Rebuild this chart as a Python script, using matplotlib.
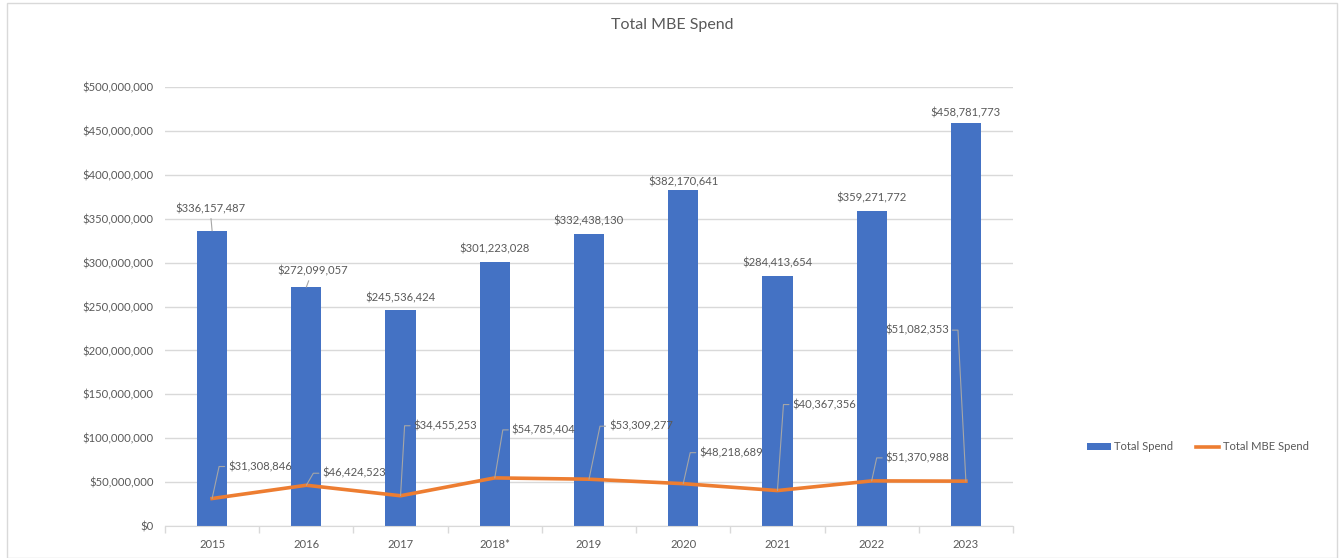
import math
import numpy as np
import matplotlib.pyplot as plt
from matplotlib.ticker import FuncFormatter, FixedLocator

plt.rcParams['font.family'] = ['Lato', 'DejaVu Sans']

years = ['2015', '2016', '2017', '2018*', '2019', '2020', '2021', '2022', '2023']
total_spend = [336157487, 272099057, 245536424, 301223028, 332438130,
               382170641, 284413654, 359271772, 458781773]
mbe_spend = [31308846, 46424523, 34455253, 54785404, 53309277,
             48218689, 40367356, 51370988, 51082353]

# label offsets in pixels (Excel placed these by hand)
mbe_off = [(16, 32), (16, 12), (13, 70), (17, 48), (20, 53),
           (16, 31), (15, 86), (14, 23), (-17, 151)]
bar_off = [(-2, 22), (6, 16), (0, 13), (0, 13), (0, 13),
           (0, 9), (0, 13), (0, 13), (0, 10)]

blue = '#4472C4'
orange = '#ED7D31'
txt = '#595959'
grid = '#D9D9D9'
fs = 8.1

fig = plt.figure(figsize=(13.4, 5.58), dpi=100)
ax = fig.add_axes([165/1340, 1-526/558, (1013-165)/1340, (526-87)/558])

x = np.arange(len(years))
bars = ax.bar(x, total_spend, width=0.32, color=blue, label='Total Spend', zorder=2)
line, = ax.plot(x, mbe_spend, color=orange, lw=2.6, label='Total MBE Spend', zorder=3,
                solid_joinstyle='round')

ax.set_xlim(-0.5, len(years) - 0.5)
ax.set_ylim(0, 500000000)
ax.set_yticks(np.arange(0, 500000001, 50000000))
ax.yaxis.set_major_formatter(FuncFormatter(lambda v, p: '${:,.0f}'.format(v)))
ax.set_xticks(x)
ax.set_xticklabels(years)
ax.xaxis.set_minor_locator(FixedLocator(np.arange(-0.5, len(years), 1.0)))
ax.tick_params(axis='x', which='major', length=0, pad=9, labelsize=fs, colors=txt)
ax.tick_params(axis='x', which='minor', length=5, color=grid, width=1)
ax.tick_params(axis='y', length=0, pad=8, labelsize=fs, colors=txt)
ax.grid(axis='y', color=grid, lw=1, zorder=0)
for s in ['top', 'right', 'left']:
    ax.spines[s].set_visible(False)
ax.spines['bottom'].set_color(grid)

for i, v in enumerate(total_spend):
    dx, dy = bar_off[i]
    ap = None
    if i < 2:
        ap = dict(arrowstyle='-', color='#A6A6A6', lw=0.8, shrinkA=1, shrinkB=0)
    ax.annotate('${:,}'.format(v), (x[i], v), xytext=(dx, dy), textcoords='offset pixels',
                ha='center', va='center', fontsize=fs, color=txt, arrowprops=ap, zorder=4)

for i, v in enumerate(mbe_spend):
    dx, dy = mbe_off[i]
    cx = dx - 9 if dx > 0 else dx + 9
    ang = math.degrees(math.atan2(dy, cx))
    left = dx > 0
    ax.annotate('${:,}'.format(v), (x[i], v), xytext=(dx, dy), textcoords='offset pixels',
                ha='left' if left else 'right', va='center', fontsize=fs, color=txt, zorder=4,
                arrowprops=dict(arrowstyle='-', color='#A6A6A6', lw=0.8, shrinkA=2.5, shrinkB=0,
                                patchA=None, relpos=(0, 0.5) if left else (1, 0.5),
                                connectionstyle='angle,angleA=0,angleB=%.1f,rad=0' % ang))

fig.text(672/1340, 1-25/558, 'Total MBE Spend', ha='center', va='center', fontsize=11.5, color=txt)

fig.legend([bars, line], ['Total Spend', 'Total MBE Spend'], loc='center',
           bbox_to_anchor=(1198/1340, 1-447/558), ncol=2, frameon=False,
           fontsize=fs, labelcolor=txt, handlelength=2.1, handletextpad=0.3, columnspacing=2.0,
           handleheight=0.5)

fig.patches.append(plt.Rectangle((7/1340, 0), 1330/1340, 1-3/558, transform=fig.transFigure,
                                 fill=False, edgecolor=grid, lw=1))

fig.savefig('out.png', dpi=100)
